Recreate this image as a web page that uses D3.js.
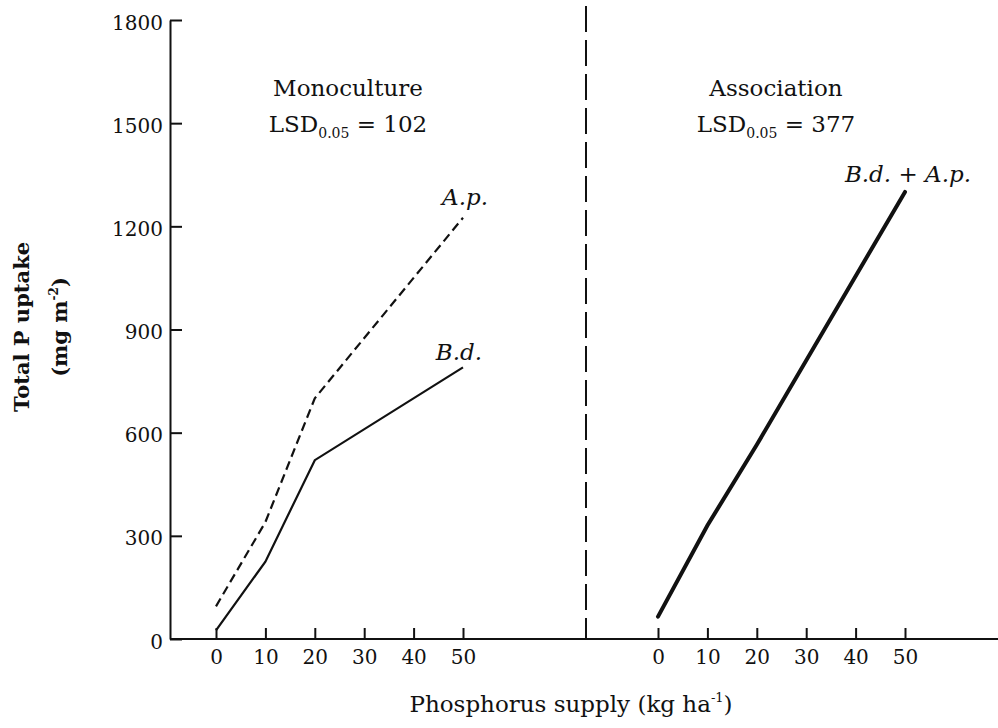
<!DOCTYPE html>
<html>
<head>
<meta charset="utf-8">
<script src="https://cdn.jsdelivr.net/npm/d3@7"></script>
<style>
  html, body { margin: 0; padding: 0; background: #fff; }
  svg { display: block; font-family: "DejaVu Serif", serif; }
</style>
</head>
<body>
<div id="chart"></div>
<script>
// P supply levels (kg/ha) where uptake was measured
const supply = [0, 10, 20, 50];

// Monoculture series (mg/m2)
const monoAp = [95, 340, 700, 1225];   // A.p., dashed
const monoBd = [25, 225, 520, 790];    // B.d., solid

// Association series (mg/m2)
const assocBdAp = [65, 330, 565, 1300];

const yTicks = [0, 300, 600, 900, 1200, 1500, 1800];
const xTicks = [0, 10, 20, 30, 40, 50];

const width = 998, height = 728;
const ink = '#111';

const svg = d3.select('#chart').append('svg')
    .attr('width', width)
    .attr('height', height);

// Scales: shared y, one x per panel
const y = d3.scaleLinear().domain([0, 1800]).range([639, 20]);
const xMono = d3.scaleLinear().domain([0, 50]).range([216, 463]);
const xAssoc = d3.scaleLinear().domain([0, 50]).range([658, 905]);
const axisX = 170;

// Y axis, ticks pointing inward
svg.append('g')
    .attr('transform', `translate(${axisX},0)`)
    .call(d3.axisLeft(y).tickValues(yTicks).tickFormat(d3.format('d'))
        .tickSize(-12).tickSizeOuter(0).tickPadding(7))
    .call(g => g.select('.domain').attr('stroke', ink).attr('stroke-width', 2))
    .call(g => g.selectAll('.tick line').attr('stroke', ink).attr('stroke-width', 2))
    .call(g => g.selectAll('text')
        .attr('fill', ink)
        .attr('font-size', 20)
        .attr('font-family', '"DejaVu Serif", serif')
        .attr('dy', '0.45em'));

// Baseline across both panels
svg.append('line')
    .attr('x1', axisX).attr('x2', width)
    .attr('y1', y(0)).attr('y2', y(0))
    .attr('stroke', ink).attr('stroke-width', 2);

// Bottom axes for both panels
[xMono, xAssoc].forEach(sc => {
    svg.append('g')
        .attr('transform', `translate(0,${y(0)})`)
        .call(d3.axisBottom(sc).tickValues(xTicks).tickSize(-11).tickPadding(11))
        .call(g => g.select('.domain').remove())
        .call(g => g.selectAll('.tick line').attr('stroke', ink).attr('stroke-width', 2))
        .call(g => g.selectAll('text')
            .attr('fill', ink)
            .attr('font-size', 20)
            .attr('font-family', '"DejaVu Serif", serif'));
});

// Panel divider
svg.append('line')
    .attr('x1', 586).attr('x2', 586)
    .attr('y1', 6).attr('y2', y(0))
    .attr('stroke', ink).attr('stroke-width', 2)
    .attr('stroke-dasharray', '26,8');

// Series lines
const lineMono = d3.line().x((d, i) => xMono(supply[i])).y(d => y(d));
const lineAssoc = d3.line().x((d, i) => xAssoc(supply[i])).y(d => y(d));

svg.append('path')
    .attr('d', lineMono(monoAp))
    .attr('fill', 'none').attr('stroke', ink).attr('stroke-width', 2.2)
    .attr('stroke-dasharray', '9,5');

svg.append('path')
    .attr('d', lineMono(monoBd))
    .attr('fill', 'none').attr('stroke', ink).attr('stroke-width', 2.2);

svg.append('path')
    .attr('d', lineAssoc(assocBdAp))
    .attr('fill', 'none').attr('stroke', ink).attr('stroke-width', 4)
    .attr('stroke-linecap', 'round');

// Panel headings
function heading(cx, title, lsd) {
    svg.append('text')
        .attr('x', cx).attr('y', 96)
        .attr('text-anchor', 'middle')
        .attr('font-size', 23).attr('fill', ink)
        .text(title);
    const t = svg.append('text')
        .attr('x', cx).attr('y', 132)
        .attr('text-anchor', 'middle')
        .attr('font-size', 23).attr('fill', ink);
    t.append('tspan').text('LSD');
    t.append('tspan').attr('font-size', 14).attr('dy', 6).text('0.05');
    t.append('tspan').attr('dy', -6).text(` = ${lsd}`);
}
heading(348, 'Monoculture', 102);
heading(776, 'Association', 377);

// Series labels
const italic = (x, yy, txt) => svg.append('text')
    .attr('x', x).attr('y', yy)
    .attr('text-anchor', 'end')
    .attr('font-size', 23).attr('font-style', 'italic').attr('fill', ink)
    .text(txt);
italic(488, 205, 'A.p.');
italic(482, 360, 'B.d.');
italic(971, 182, 'B.d. + A.p.');

// X axis title
const xt = svg.append('text')
    .attr('x', 571).attr('y', 712)
    .attr('text-anchor', 'middle')
    .attr('font-size', 23).attr('fill', ink);
xt.append('tspan').text('Phosphorus supply (kg ha');
xt.append('tspan').attr('font-size', 13).attr('dy', -10).text('-1');
xt.append('tspan').attr('dy', 10).text(')');

// Y axis title (two lines)
svg.append('text')
    .attr('transform', 'translate(29,327) rotate(-90)')
    .attr('text-anchor', 'middle')
    .attr('font-size', 21).attr('font-weight', 'bold').attr('fill', ink)
    .text('Total P uptake');
const yt = svg.append('text')
    .attr('transform', 'translate(67,327) rotate(-90)')
    .attr('text-anchor', 'middle')
    .attr('font-size', 21).attr('font-weight', 'bold').attr('fill', ink);
yt.append('tspan').text('(mg m');
yt.append('tspan').attr('font-size', 12).attr('dy', -9).text('-2');
yt.append('tspan').attr('dy', 9).text(')');
</script>
</body>
</html>
